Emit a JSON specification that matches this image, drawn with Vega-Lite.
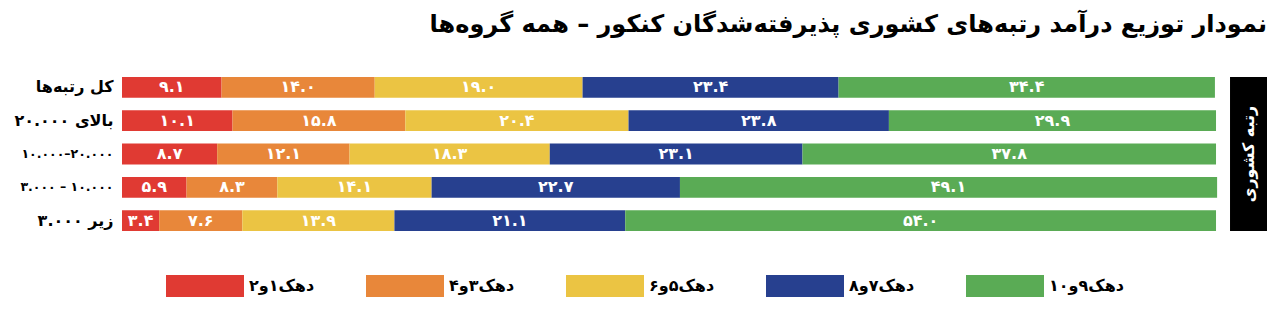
{
  "$schema": "https://vega.github.io/schema/vega-lite/v6.json",
  "width": 1145,
  "height": 154,
  "autosize": {"type": "none"},
  "padding": {"left": 122, "top": 77, "right": 13, "bottom": 87},
  "background": "white",
  "title": {
    "text": "نمودار توزیع درآمد رتبه‌های کشوری پذیرفته‌شدگان کنکور – همه گروه‌ها",
    "anchor": "end",
    "frame": "group",
    "font": "DejaVu Sans",
    "fontSize": 24,
    "fontWeight": "bold",
    "color": "#000000",
    "offset": 40
  },
  "config": {
    "view": {"stroke": null},
    "font": "DejaVu Sans"
  },
  "layer": [
    {
      "data": {
        "values": [
          {"row": "کل رتبه‌ها", "group": "دهک۱و۲", "value": 9.1, "lbl": "۹.۱"},
          {"row": "کل رتبه‌ها", "group": "دهک۳و۴", "value": 14.0, "lbl": "۱۴.۰"},
          {"row": "کل رتبه‌ها", "group": "دهک۵و۶", "value": 19.0, "lbl": "۱۹.۰"},
          {"row": "کل رتبه‌ها", "group": "دهک۷و۸", "value": 23.4, "lbl": "۲۳.۴"},
          {"row": "کل رتبه‌ها", "group": "دهک۹و۱۰", "value": 34.4, "lbl": "۳۴.۴"},
          {"row": "بالای ۲۰.۰۰۰", "group": "دهک۱و۲", "value": 10.1, "lbl": "۱۰.۱"},
          {"row": "بالای ۲۰.۰۰۰", "group": "دهک۳و۴", "value": 15.8, "lbl": "۱۵.۸"},
          {"row": "بالای ۲۰.۰۰۰", "group": "دهک۵و۶", "value": 20.4, "lbl": "۲۰.۴"},
          {"row": "بالای ۲۰.۰۰۰", "group": "دهک۷و۸", "value": 23.8, "lbl": "۲۳.۸"},
          {"row": "بالای ۲۰.۰۰۰", "group": "دهک۹و۱۰", "value": 29.9, "lbl": "۲۹.۹"},
          {"row": "۱۰.۰۰۰–۲۰.۰۰۰", "group": "دهک۱و۲", "value": 8.7, "lbl": "۸.۷"},
          {"row": "۱۰.۰۰۰–۲۰.۰۰۰", "group": "دهک۳و۴", "value": 12.1, "lbl": "۱۲.۱"},
          {"row": "۱۰.۰۰۰–۲۰.۰۰۰", "group": "دهک۵و۶", "value": 18.3, "lbl": "۱۸.۳"},
          {"row": "۱۰.۰۰۰–۲۰.۰۰۰", "group": "دهک۷و۸", "value": 23.1, "lbl": "۲۳.۱"},
          {"row": "۱۰.۰۰۰–۲۰.۰۰۰", "group": "دهک۹و۱۰", "value": 37.8, "lbl": "۳۷.۸"},
          {"row": "۳.۰۰۰ – ۱۰.۰۰۰", "group": "دهک۱و۲", "value": 5.9, "lbl": "۵.۹"},
          {"row": "۳.۰۰۰ – ۱۰.۰۰۰", "group": "دهک۳و۴", "value": 8.3, "lbl": "۸.۳"},
          {"row": "۳.۰۰۰ – ۱۰.۰۰۰", "group": "دهک۵و۶", "value": 14.1, "lbl": "۱۴.۱"},
          {"row": "۳.۰۰۰ – ۱۰.۰۰۰", "group": "دهک۷و۸", "value": 22.7, "lbl": "۲۲.۷"},
          {"row": "۳.۰۰۰ – ۱۰.۰۰۰", "group": "دهک۹و۱۰", "value": 49.1, "lbl": "۴۹.۱"},
          {"row": "زیر ۳.۰۰۰", "group": "دهک۱و۲", "value": 3.4, "lbl": "۳.۴"},
          {"row": "زیر ۳.۰۰۰", "group": "دهک۳و۴", "value": 7.6, "lbl": "۷.۶"},
          {"row": "زیر ۳.۰۰۰", "group": "دهک۵و۶", "value": 13.9, "lbl": "۱۳.۹"},
          {"row": "زیر ۳.۰۰۰", "group": "دهک۷و۸", "value": 21.1, "lbl": "۲۱.۱"},
          {"row": "زیر ۳.۰۰۰", "group": "دهک۹و۱۰", "value": 54.0, "lbl": "۵۴.۰"}
        ]
      },
      "transform": [
        {"stack": "value", "groupby": ["row"], "sort": [{"field": "group", "order": "ascending"}], "as": ["x0", "x1"]},
        {"calculate": "(datum.x0 + datum.x1) / 2", "as": "xm"}
      ],
      "encoding": {
        "y": {
          "field": "row",
          "type": "nominal",
          "sort": ["کل رتبه‌ها", "بالای ۲۰.۰۰۰", "۱۰.۰۰۰–۲۰.۰۰۰", "۳.۰۰۰ – ۱۰.۰۰۰", "زیر ۳.۰۰۰"],
          "scale": {"paddingInner": 0.375, "paddingOuter": 0},
          "axis": {
            "title": null,
            "domain": false,
            "ticks": false,
            "grid": false,
            "labelFont": "DejaVu Sans",
            "labelFontSize": {"condition": {"test": "indexof(datum.label, '–') >= 0", "value": 12.5}, "value": 16},
            "labelFontWeight": "bold",
            "labelColor": "#000000",
            "labelPadding": 9,
            "labelLimit": 200
          }
        }
      },
      "layer": [
        {
          "mark": {"type": "bar", "cornerRadius": 0},
          "encoding": {
            "x": {
              "field": "x0",
              "type": "quantitative",
              "scale": {"domain": [0, 104.66], "nice": false, "zero": true},
              "axis": null
            },
            "x2": {"field": "x1"},
            "color": {
              "field": "group",
              "type": "nominal",
              "scale": {
                "domain": ["دهک۱و۲", "دهک۳و۴", "دهک۵و۶", "دهک۷و۸", "دهک۹و۱۰"],
                "range": ["#E03A33", "#E8873A", "#EBC443", "#27408F", "#5AAB55"]
              },
              "legend": {
                "title": null,
                "orient": "none",
                "legendX": 44,
                "legendY": 170,
                "direction": "horizontal",
                "symbolType": "M-1,-0.282L1,-0.282L1,0.282L-1,0.282Z",
                "symbolSize": 6084,
                "symbolStrokeWidth": 0,
                "symbolOpacity": 1,
                "labelFont": "DejaVu Sans",
                "labelFontSize": 16,
                "labelFontWeight": "bold",
                "labelColor": "#000000",
                "labelOffset": 5,
                "labelLimit": 200,
                "columnPadding": 51
              }
            }
          }
        },
        {
          "mark": {"type": "text", "color": "white", "font": "DejaVu Sans", "fontSize": 16, "fontWeight": "bold", "baseline": "middle", "align": "center"},
          "encoding": {
            "x": {"field": "xm", "type": "quantitative"},
            "text": {"field": "lbl"}
          }
        }
      ]
    },
    {
      "data": {"values": [{}]},
      "mark": {"type": "rect", "color": "#000000"},
      "encoding": {
        "x": {"datum": 101.28, "type": "quantitative"},
        "x2": {"datum": 104.66}
      }
    },
    {
      "data": {"values": [{}]},
      "mark": {"type": "text", "color": "white", "font": "DejaVu Sans", "fontSize": 16, "fontWeight": "bold", "angle": 270, "align": "center", "baseline": "middle"},
      "encoding": {
        "x": {"datum": 102.97, "type": "quantitative"},
        "text": {"value": "رتبه کشوری"}
      }
    }
  ]
}
